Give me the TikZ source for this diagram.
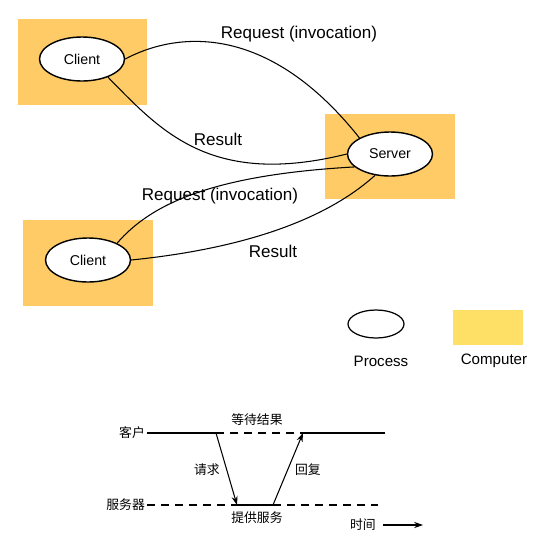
\documentclass[tikz,border=0pt]{standalone}
\usepackage{fontspec}
\setmainfont{Liberation Sans}
\newfontfamily\cjk{Noto Sans CJK SC}
\usetikzlibrary{shapes.geometric,arrows.meta}
\definecolor{computer}{RGB}{254,203,102}
\definecolor{legendyellow}{RGB}{255,224,102}
\tikzset{
  machine/.style={fill=computer, minimum width=2.6cm, minimum height=1.72cm, inner sep=0pt},
  proc/.style={draw, ellipse, fill=white, line width=0.8pt, minimum width=1.7cm, minimum height=0.88cm, inner sep=0pt, font=\fontsize{8.1}{10}\selectfont},
  msg/.style={line width=0.6pt},
  lbl/.style={font=\fontsize{9.7}{12}\selectfont},
  zh/.style={font=\cjk\fontsize{7.3}{8}\selectfont, inner sep=1pt},
  wait/.style={line width=0.6pt, dash pattern=on 4.5pt off 3.5pt},
  busy/.style={line width=1pt},
  timearrow/.style={line width=0.6pt, -{Stealth[length=5pt,width=3.5pt]}},
}

\begin{document}
\begin{tikzpicture}[x=0.02cm, y=-0.02cm]
  \useasboundingbox (0,0) rectangle (543,549);

  % computers
  \node[machine] (box1) at (82.5,62) {};
  \node[machine] (box2) at (390,156.5) {};
  \node[machine] (box3) at (88,263) {};

  % processes
  \node[proc] (c1) at (82,59) {Client};
  \node[proc] (srv) at (390,154) {Server};
  \node[proc] (c2) at (88,260) {Client};

  % messages
  \draw[msg] (c1.east) .. controls (180,30) and (270,25) .. (srv.north west);
  \draw[msg] (c1.-35) .. controls (160,130) and (210,188) .. (srv.west);
  \draw[msg] (c2.30) .. controls (150,205) and (210,175) .. (srv.200);
  \draw[msg] (c2.east) .. controls (230,250) and (320,225) .. (srv.235);

  \node[lbl] (req1) at (299,34) {Request (invocation)};
  \node[lbl] (res1) at (218,139) {Result};
  \node[lbl] (req2) at (220,196) {Request (invocation)};
  \node[lbl] (res2) at (273,251) {Result};

  % legend
  \node[draw, ellipse, line width=0.7pt, minimum width=1.12cm, minimum height=0.56cm] (lproc) at (376,324) {};
  \node[fill=legendyellow, minimum width=1.4cm, minimum height=0.7cm, inner sep=0pt] (lcomp) at (488,327.5) {};
  \node[font=\fontsize{8.6}{10}\selectfont] (tproc) at (381,361) {Process};
  \node[font=\fontsize{8.6}{10}\selectfont] (tcomp) at (494,361) {Computer};

  % time line
  \coordinate (cl0) at (147,433);
  \coordinate (cl1) at (216,433);
  \coordinate (cl2) at (303,433);
  \coordinate (cl3) at (385,433);
  \coordinate (sv0) at (147,505);
  \coordinate (sv1) at (237,505);
  \coordinate (sv2) at (273,505);
  \coordinate (sv3) at (378,505);
  \coordinate (t1) at (423,525);

  \node[zh, anchor=east] (kehu) at (cl0) {客户};
  \node[zh, anchor=east] (fuwuqi) at (sv0) {服务器};

  \draw[busy] (cl0) -- (cl1);
  \draw[wait] (cl1) -- (cl2);
  \draw[busy] (cl2) -- (cl3);
  \draw[wait] (sv0) -- (sv1);
  \draw[busy] (sv1) -- (sv2);
  \draw[wait] (sv2) -- (sv3);

  \draw[timearrow] (cl1) -- (sv1);
  \draw[timearrow] (sv2) -- (cl2);

  \node[zh] (dengdai) at (257,420) {等待结果};
  \node[zh] (qingqiu) at (207,470) {请求};
  \node[zh] (huifu) at (308,470) {回复};
  \node[zh] (tigong) at (257,518) {提供服务};
  \node[zh] (shijian) at (363,525) {时间};
  \draw[timearrow] ([xshift=3pt]shijian.east) -- (t1);
\end{tikzpicture}
\end{document}
